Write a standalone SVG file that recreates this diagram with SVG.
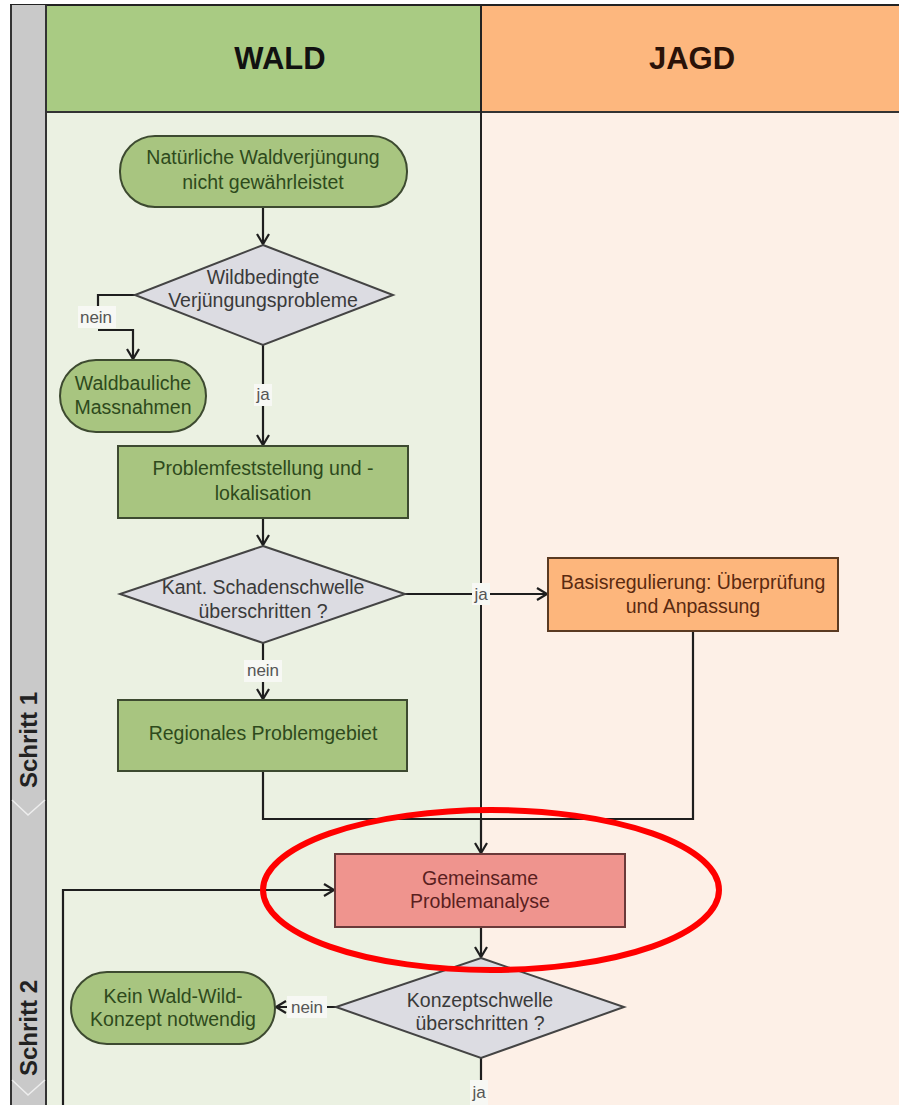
<svg xmlns="http://www.w3.org/2000/svg" width="899" height="1105" viewBox="0 0 899 1105">
<defs>
<style>
.t{font-family:"Liberation Sans",Arial,sans-serif;font-size:19.5px;text-anchor:middle}
.g{fill:#2e4a1c}
.d{fill:#3a3a3a}
.lbl{font-family:"Liberation Sans",Arial,sans-serif;font-size:17px;text-anchor:middle;fill:#555}
.lb{fill:#f7f8f4}
.gn{fill:#a8c580;stroke:#3d4a30;stroke-width:2}
.dm{fill:#dcdce2;stroke:#444;stroke-width:2}
.c{fill:none;stroke:#1e1e1e;stroke-width:2.2}
.hd{font-family:"Liberation Sans",Arial,sans-serif;font-size:31px;font-weight:bold;text-anchor:middle}
.st{font-family:"Liberation Sans",Arial,sans-serif;font-size:24px;font-weight:bold;text-anchor:middle;fill:#222}
</style>
<marker id="a" markerWidth="14" markerHeight="14" refX="11" refY="7" orient="auto" markerUnits="userSpaceOnUse">
<path d="M1,1 L11,7 L1,13" fill="none" stroke="#1e1e1e" stroke-width="2.2"/>
</marker>
</defs>
<rect width="899" height="1105" fill="#fff"/>
<g id="lanes">
<rect x="46" y="112" width="435" height="993" fill="#ebf1e2"/>
<rect x="481" y="112" width="418" height="993" fill="#fdf0e7"/>
<rect x="46" y="5" width="435" height="107" fill="#a9cb83"/>
<rect x="481" y="5" width="418" height="107" fill="#fdb77e"/>
<text class="hd" x="280" y="69" fill="#111">WALD</text>
<text class="hd" x="692" y="69" fill="#2a1208">JAGD</text>
<line x1="10" y1="5" x2="899" y2="5" stroke="#222" stroke-width="2"/>
<line x1="46" y1="112" x2="899" y2="112" stroke="#333" stroke-width="2"/>
<line x1="481" y1="5" x2="481" y2="1105" stroke="#222" stroke-width="2"/>
<rect x="11" y="5" width="35" height="1100" fill="#c9c9c9"/>
<line x1="11" y1="5" x2="11" y2="1105" stroke="#333" stroke-width="2"/>
<line x1="46" y1="5" x2="46" y2="1105" stroke="#333" stroke-width="2"/>
<polyline points="12,800 28,815 45,800" fill="none" stroke="#eee" stroke-width="1.5"/>
<polyline points="12,1080 28,1095 45,1080" fill="none" stroke="#eee" stroke-width="1.5"/>
<text class="st" transform="translate(37,740) rotate(-90)">Schritt 1</text>
<text class="st" transform="translate(37,1028) rotate(-90)">Schritt 2</text>
</g>
<g id="connectors">
<line class="c" x1="263" y1="207" x2="263" y2="244" marker-end="url(#a)"/>
<polyline class="c" points="135,295 98,295 98,306"/>
<polyline class="c" points="98,330 133,330 133,359" marker-end="url(#a)"/>
<rect class="lb" x="78" y="306" width="38" height="22"/>
<text class="lbl" x="96" y="323">nein</text>
<line class="c" x1="263" y1="345" x2="263" y2="445" marker-end="url(#a)"/>
<rect class="lb" x="254" y="384" width="18" height="22"/>
<text class="lbl" x="263" y="400">ja</text>
<line class="c" x1="263" y1="518" x2="263" y2="545" marker-end="url(#a)"/>
<line class="c" x1="405" y1="594" x2="547" y2="594" marker-end="url(#a)"/>
<rect class="lb" x="472" y="583" width="18" height="22"/>
<text class="lbl" x="481" y="600">ja</text>
<line class="c" x1="263" y1="643" x2="263" y2="699" marker-end="url(#a)"/>
<rect class="lb" x="244" y="660" width="38" height="22"/>
<text class="lbl" x="263" y="676">nein</text>
<polyline class="c" points="263,771 263,819 481,819"/>
<polyline class="c" points="693,631 693,819 481,819"/>
<line class="c" x1="481" y1="819" x2="481" y2="853" marker-end="url(#a)"/>
<line class="c" x1="481" y1="927" x2="481" y2="957" marker-end="url(#a)"/>
<polyline class="c" points="63,1105 63,890 334,890" marker-end="url(#a)"/>
<line class="c" x1="336" y1="1007" x2="276" y2="1007" marker-end="url(#a)"/>
<rect class="lb" x="287" y="996" width="40" height="22"/>
<text class="lbl" x="307" y="1013">nein</text>
<line class="c" x1="481" y1="1058" x2="481" y2="1105"/>
<rect class="lb" x="470" y="1080" width="18" height="25"/>
<text class="lbl" x="479" y="1098">ja</text>
</g>
<g id="n1">
<rect class="gn" x="120" y="136" width="287" height="71" rx="35" ry="35"/>
<text class="t g" x="263" y="164">Natürliche Waldverjüngung</text>
<text class="t g" x="263" y="189">nicht gewährleistet</text>
</g>
<g id="n2">
<polygon class="dm" points="263,245 393,295 263,345 135,295"/>
<text class="t d" x="263" y="284">Wildbedingte</text>
<text class="t d" x="263" y="307">Verjüngungsprobleme</text>
</g>
<g id="n3">
<rect class="gn" x="60" y="360" width="146" height="72" rx="36" ry="36"/>
<text class="t g" x="133" y="390">Waldbauliche</text>
<text class="t g" x="133" y="414">Massnahmen</text>
</g>
<g id="n4">
<rect class="gn" x="118" y="446" width="290" height="72"/>
<text class="t g" x="263" y="475">Problemfeststellung und -</text>
<text class="t g" x="263" y="500">lokalisation</text>
</g>
<g id="n5">
<polygon class="dm" points="263,546 405,594 263,643 120,594"/>
<text class="t d" x="263" y="594">Kant. Schadenschwelle</text>
<text class="t d" x="263" y="618">überschritten ?</text>
</g>
<g id="n6">
<rect x="548" y="558" width="290" height="73" fill="#fdb67c" stroke="#5a3a22" stroke-width="2"/>
<text class="t" fill="#5a2a10" x="693" y="589">Basisregulierung: Überprüfung</text>
<text class="t" fill="#5a2a10" x="693" y="613">und Anpassung</text>
</g>
<g id="n7">
<rect class="gn" x="118" y="700" width="289" height="71"/>
<text class="t g" x="263" y="740">Regionales Problemgebiet</text>
</g>
<g id="n8">
<rect x="335" y="854" width="290" height="73" fill="#ef948e" stroke="#6a3a3a" stroke-width="2"/>
<text class="t" fill="#5a1f1f" x="480" y="885">Gemeinsame</text>
<text class="t" fill="#5a1f1f" x="480" y="908">Problemanalyse</text>
</g>
<g id="n9">
<polygon class="dm" points="481,958 624,1007 481,1058 336,1007"/>
<text class="t d" x="480" y="1007">Konzeptschwelle</text>
<text class="t d" x="480" y="1030">überschritten ?</text>
</g>
<g id="n10">
<rect class="gn" x="71" y="972" width="204" height="72" rx="36" ry="36"/>
<text class="t g" x="173" y="1003">Kein Wald-Wild-</text>
<text class="t g" x="173" y="1026">Konzept notwendig</text>
</g>
<ellipse cx="491" cy="890" rx="228" ry="80" fill="none" stroke="#f00" stroke-width="6"/>
</svg>
